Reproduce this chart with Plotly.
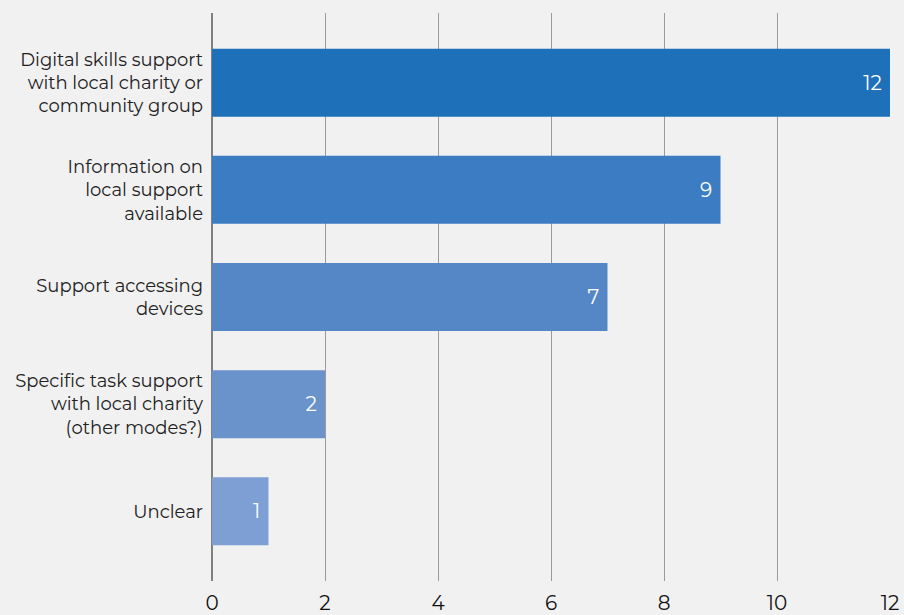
import plotly.graph_objects as go

categories = [
    "Digital skills support<br>with local charity or<br>community group",
    "Information on<br>local support<br>available",
    "Support accessing<br>devices",
    "Specific task support<br>with local charity<br>(other modes?)",
    "Unclear",
]
values = [12, 9, 7, 2, 1]
bar_colors = ["#1E70B8", "#3B7CC3", "#5587C7", "#6A92CB", "#7E9FD4"]
x_ticks = [0, 2, 4, 6, 8, 10, 12]

FONT = "Montserrat, Lato, 'Open Sans', sans-serif"

fig = go.Figure(go.Bar(
    x=values,
    y=categories,
    orientation="h",
    marker=dict(color=bar_colors, line=dict(width=0)),
    width=0.634,
    text=[f"{v}\u2009\u2009" for v in values],
    textposition="inside",
    insidetextanchor="end",
    textfont=dict(color="white", size=20, family=FONT),
    cliponaxis=False,
))

fig.update_layout(
    width=904, height=615,
    margin=dict(l=212, r=14, t=13, b=34),
    paper_bgcolor="#F1F1F1",
    plot_bgcolor="#F1F1F1",
    font=dict(family=FONT, color="#222222"),
    showlegend=False,
    xaxis=dict(
        range=[0, 12], tickvals=x_ticks, showgrid=True, gridcolor="#9A9A9A", gridwidth=1,
        zeroline=True, zerolinecolor="#808080", zerolinewidth=2,
        tickfont=dict(size=20, color="#111111"), showline=False, ticks="",
        automargin=False, ticklabelstandoff=8,
    ),
    yaxis=dict(
        range=[4.65, -0.65], tickfont=dict(size=18, color="#222222"),
        showgrid=False, zeroline=False, ticks="", ticklabelstandoff=8,
        automargin=False,
    ),
)

fig.write_html("out.html")
